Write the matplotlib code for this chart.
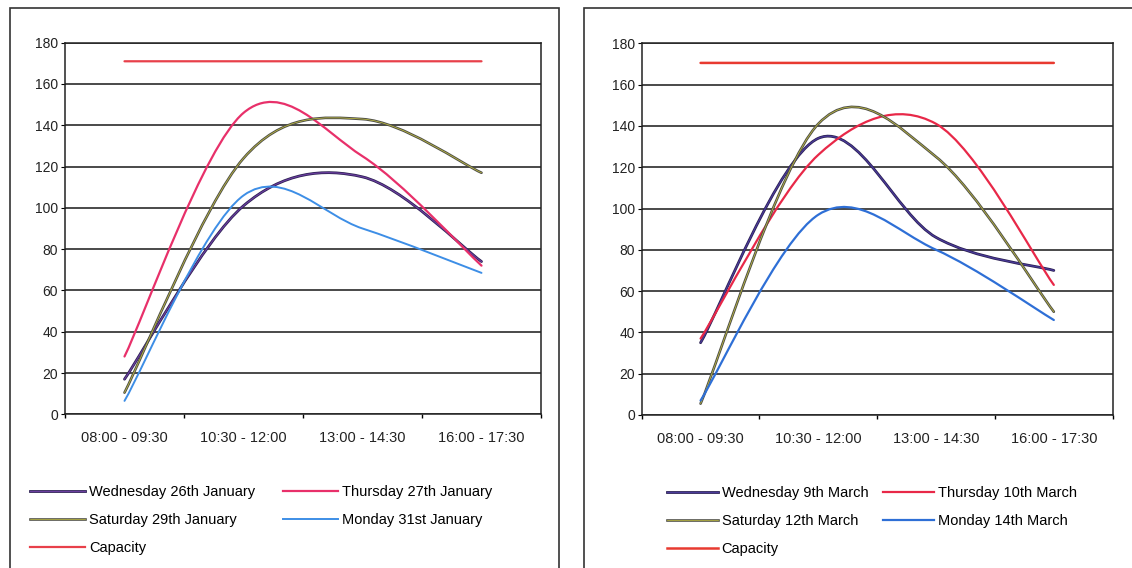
import matplotlib
matplotlib.use('Agg')
import matplotlib.pyplot as plt
import matplotlib.patheffects as pe
from matplotlib.path import Path
from matplotlib.patches import PathPatch, Rectangle
from matplotlib.lines import Line2D
import numpy as np

plt.rcParams['font.family'] = ['Liberation Sans', 'DejaVu Sans']

W, H = 1132, 568

slots = ['08:00 - 09:30', '10:30 - 12:00', '13:00 - 14:30', '16:00 - 17:30']

# January survey
jan_labels = ['Wednesday 26th January', 'Thursday 27th January',
              'Saturday 29th January', 'Monday 31st January']
jan_wed = [17, 101, 115, 74]
jan_thu = [28, 146, 125, 72]
jan_sat = [10.5, 124, 143, 117]
jan_mon = [6.5, 106, 90, 68.5]
jan_capacity = [171, 171, 171, 171]

# March survey
mar_labels = ['Wednesday 9th March', 'Thursday 10th March',
              'Saturday 12th March', 'Monday 14th March']
mar_wed = [35, 134, 86, 70]
mar_thu = [37, 126, 141, 63]
mar_sat = [5.5, 141, 125, 50]
mar_mon = [7, 97, 80, 46]
mar_capacity = [170.5, 170.5, 170.5, 170.5]


def smooth_path(ys, k=1 / 6):
    # Excel style smoothed line: cubic bezier through every point
    pts = np.column_stack([np.arange(len(ys)), ys]).astype(float)
    padded = np.vstack([pts[0], pts, pts[-1]])
    verts = [pts[0]]
    codes = [Path.MOVETO]
    for i in range(len(pts) - 1):
        p0, p1, p2, p3 = padded[i], padded[i + 1], padded[i + 2], padded[i + 3]
        verts += [p1 + (p2 - p0) * k, p2 - (p3 - p1) * k, p2]
        codes += [Path.CURVE4] * 3
    return Path(verts, codes)


def fx(px):
    return px / W


def fy(py):
    return 1 - py / H


def draw_panel(rect, series, capacity, styles):
    ax = fig.add_axes(rect)
    ax.set_xlim(-0.5, 3.5)
    ax.set_ylim(0, 180)
    ax.set_yticks(range(0, 181, 20))
    ax.set_xticks([-0.5, 0.5, 1.5, 2.5, 3.5])
    ax.set_xticklabels([])
    ax.set_xticks(range(len(slots)), minor=True)
    ax.set_xticklabels(slots, minor=True, fontsize=10.5, color='#222222')
    ax.tick_params(axis='x', which='major', length=3, direction='out', width=1)
    ax.tick_params(axis='x', which='minor', length=0, pad=12)
    ax.tick_params(axis='y', length=3, pad=2, labelsize=10, labelcolor='#222222')
    ax.yaxis.grid(True, color='#2a2a2a', lw=1.2)
    ax.set_axisbelow(True)
    for s in ax.spines.values():
        s.set_color('#222222')
        s.set_linewidth(1.1)

    handles = []
    for ys, st in zip(series + [capacity], styles):
        effects = st.get('effects')
        patch = PathPatch(smooth_path(ys), fill=False, edgecolor=st['color'],
                          lw=st['lw'], capstyle='round', joinstyle='round', zorder=3)
        if effects:
            patch.set_path_effects(effects)
        ax.add_patch(patch)
        h = Line2D([], [], color=st['color'], lw=st['lw'])
        if effects:
            h.set_path_effects(effects)
        handles.append(h)
    return ax, handles


sat_fx = [pe.Stroke(linewidth=1.9, foreground='#505048'), pe.Normal()]
wed_fx = [pe.Stroke(linewidth=2.0, foreground='#2a2050'), pe.Normal()]

jan_styles = [
    {'color': '#6a3d9e', 'lw': 0.9, 'effects': wed_fx},
    {'color': '#e8306a', 'lw': 1.6},
    {'color': '#c8c440', 'lw': 0.5, 'effects': sat_fx},
    {'color': '#3d8ee6', 'lw': 1.4},
    {'color': '#e8404a', 'lw': 1.6},
]
mar_styles = [
    {'color': '#4a3a9a', 'lw': 0.9, 'effects': wed_fx},
    {'color': '#e82848', 'lw': 1.6},
    {'color': '#c8c440', 'lw': 0.5, 'effects': sat_fx},
    {'color': '#2e6fd6', 'lw': 1.6},
    {'color': '#e83a30', 'lw': 1.8},
]

fig = plt.figure(figsize=(W / 100, H / 100), dpi=100)

# panel frames
fig.add_artist(Rectangle((fx(10), fy(580)), fx(549), fy(8) - fy(580),
                         fill=False, ec='#333333', lw=1.2, transform=fig.transFigure))
fig.add_artist(Rectangle((fx(584), fy(580)), fx(560), fy(8) - fy(580),
                         fill=False, ec='#333333', lw=1.2, transform=fig.transFigure))

ax1, h1 = draw_panel([fx(65), fy(414.3), fx(476), fy(42.7) - fy(414.3)],
                     [jan_wed, jan_thu, jan_sat, jan_mon], jan_capacity, jan_styles)
ax2, h2 = draw_panel([fx(641.7), fy(415), fx(471), fy(43.3) - fy(415)],
                     [mar_wed, mar_thu, mar_sat, mar_mon], mar_capacity, mar_styles)

leg_kw = dict(loc='upper left', frameon=False, handletextpad=0.25,
              labelspacing=0.95, borderpad=0, borderaxespad=0, fontsize=10.5)
for handles, labels, x1, x2, top, hl in [(h1, jan_labels, 30, 283, 485, 3.8),
                                         (h2, mar_labels, 667, 883, 486, 3.5)]:
    fig.legend([handles[0], handles[2], handles[4]], [labels[0], labels[2], 'Capacity'],
               bbox_to_anchor=(fx(x1), fy(top)), handlelength=hl, **leg_kw)
    fig.legend([handles[1], handles[3]], [labels[1], labels[3]],
               bbox_to_anchor=(fx(x2), fy(top)), handlelength=hl, **leg_kw)

fig.savefig('out.png', dpi=100)
